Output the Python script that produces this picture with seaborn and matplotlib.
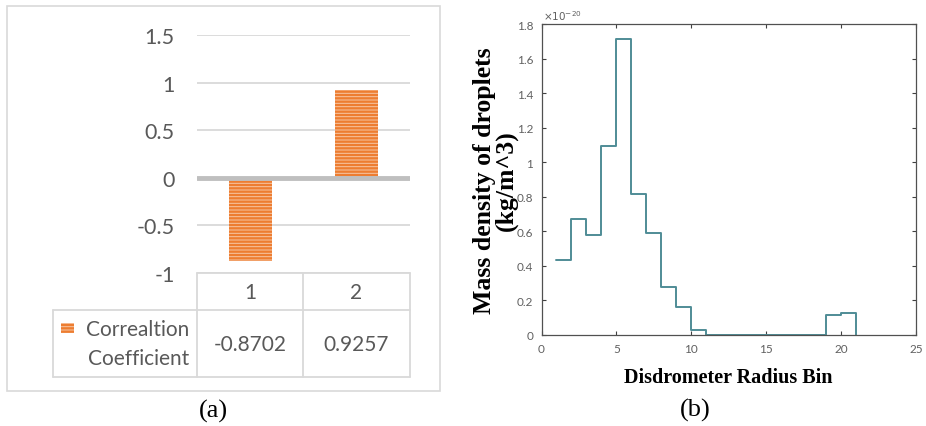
import numpy as np
import pandas as pd
import matplotlib
matplotlib.use("Agg")
import matplotlib.pyplot as plt
from matplotlib.patches import Rectangle
import seaborn as sns

# ---- data ----
categories = ["1", "2"]
corr_values = [-0.8702, 0.9257]
series_name = "Correaltion Coefficient"
corr_ticks = [-1, -0.5, 0, 0.5, 1, 1.5]

radius_bins = [1, 2, 3, 4, 5, 6, 7, 8, 9, 10, 11, 12, 13, 14, 15, 16, 17, 18, 19, 20, 21]
mass_density = [0.435, 0.67, 0.58, 1.095, 1.715, 0.815, 0.59, 0.28, 0.16, 0.03,
                0, 0, 0, 0, 0, 0, 0, 0, 0.115, 0.13, 0]  # x 1e-20 kg/m^3
mass_ticks_y = [0, 0.2, 0.4, 0.6, 0.8, 1, 1.2, 1.4, 1.6, 1.8]
mass_ticks_x = [0, 5, 10, 15, 20, 25]

sns.set_theme(style="white")
plt.rcParams['font.family'] = ['Lato', 'DejaVu Sans']
plt.rcParams['hatch.linewidth'] = 1.7

W, H = 926, 427
fig = plt.figure(figsize=(W / 100, H / 100), dpi=100)
fig.patch.set_facecolor("white")

def fa(x0, y0, x1, y1):
    return [x0 / W, 1 - y1 / H, (x1 - x0) / W, (y1 - y0) / H]

# background overlay in pixel coords
bg = fig.add_axes([0, 0, 1, 1], zorder=0)
bg.set_xlim(0, W)
bg.set_ylim(H, 0)
bg.axis("off")

txtc = "#595959"
gridc = "#D9D9D9"
orange = "#ED7D31"
light = "#F7C6A3"

# chart border
bg.add_patch(Rectangle((7, 7), 433, 385, fill=False, edgecolor=gridc, lw=1.2))

# table lines
tl = dict(color=gridc, lw=1.3)
bg.plot([197, 410], [274, 274], **tl)
bg.plot([53, 410], [311, 311], **tl)
bg.plot([53, 410], [378, 378], **tl)
for x in [197, 303, 410]:
    bg.plot([x, x], [274, 378], **tl)
bg.plot([53, 53], [311, 378], **tl)

col_centers = [250, 356]
for cx, cat, v in zip(col_centers, categories, corr_values):
    bg.text(cx, 293, cat, ha="center", va="center", fontsize=15, color=txtc)
    bg.text(cx, 345, f"{v:.4f}", ha="center", va="center", fontsize=15, color=txtc)
name1, name2 = series_name.split(" ")
bg.text(189, 330, name1, ha="right", va="center", fontsize=15, color=txtc)
bg.text(189, 359, name2, ha="right", va="center", fontsize=15, color=txtc)
bg.add_patch(Rectangle((61, 324), 13, 10, facecolor=light, edgecolor=orange,
                       hatch="-----", lw=0))

# captions
bg.text(213, 411, "(a)", ha="center", va="center", fontsize=19,
        family=["Liberation Serif"], color="black")
bg.text(695, 410, "(b)", ha="center", va="center", fontsize=19,
        family=["Liberation Serif"], color="black")

# ---- panel (a): bar chart ----
ax1 = fig.add_axes(fa(197, 36, 410, 274), zorder=2)
ax1.patch.set_alpha(0)
df = pd.DataFrame({"cat": categories, "val": corr_values})
sns.barplot(data=df, x="cat", y="val", ax=ax1, width=0.4, color=orange,
            saturation=1, zorder=2)
for p in ax1.patches:
    p.set_facecolor(light)
    p.set_edgecolor(orange)
    p.set_hatch("-----")
    p.set_linewidth(0)
ax1.set_ylim(-1, 1.5)
ax1.set_xlim(-0.5, 1.5)
ax1.set_yticks(corr_ticks)
ax1.set_yticklabels([f"{t:g}" for t in corr_ticks], fontsize=15.5, color=txtc)
ax1.tick_params(axis="y", length=0, pad=16)
ax1.set_xticks([])
ax1.set_xlabel("")
ax1.set_ylabel("")
for t in corr_ticks:
    if t != 0:
        ax1.axhline(t, color=gridc, lw=1.3, zorder=1)
ax1.axhline(0, color="#BFBFBF", lw=3.5, zorder=3)
for s in ax1.spines.values():
    s.set_visible(False)

# ---- panel (b): step plot ----
ax2 = fig.add_axes(fa(541.5, 25, 916, 336), zorder=2)
df2 = pd.DataFrame({"bin": radius_bins, "mass": mass_density})
sns.lineplot(data=df2, x="bin", y="mass", ax=ax2, drawstyle="steps-post",
             color="#4F8C96", lw=1.4)
ax2.set_xlim(0, 25)
ax2.set_ylim(0, 1.8)
ax2.set_xticks(mass_ticks_x)
ax2.set_yticks(mass_ticks_y)
ax2.set_xticklabels([f"{t:g}" for t in mass_ticks_x])
ax2.set_yticklabels([f"{t:g}" for t in mass_ticks_y])
ax2.tick_params(axis="both", direction="in", length=3, width=0.8,
                labelsize=8.5, labelcolor="#606060", color="#404040",
                top=True, right=True, bottom=True, left=True, pad=6)
for s in ax2.spines.values():
    s.set_visible(True)
    s.set_color("#505050")
    s.set_linewidth(0.9)
ax2.set_xlabel("Disdrometer Radius Bin", family=["Liberation Serif"],
               fontweight="bold", fontsize=14.5, color="black", labelpad=9)
ax2.set_ylabel("Mass density of droplets\n(kg/m^3)", family=["Liberation Serif"],
               fontweight="bold", fontsize=18.5, color="black", labelpad=-1,
               linespacing=0.95)
ax2.text(0.005, 1.005, r"$\times10^{-20}$", transform=ax2.transAxes,
         fontsize=7.5, color="#606060", ha="left", va="bottom")

fig.savefig("out.png", dpi=100)
